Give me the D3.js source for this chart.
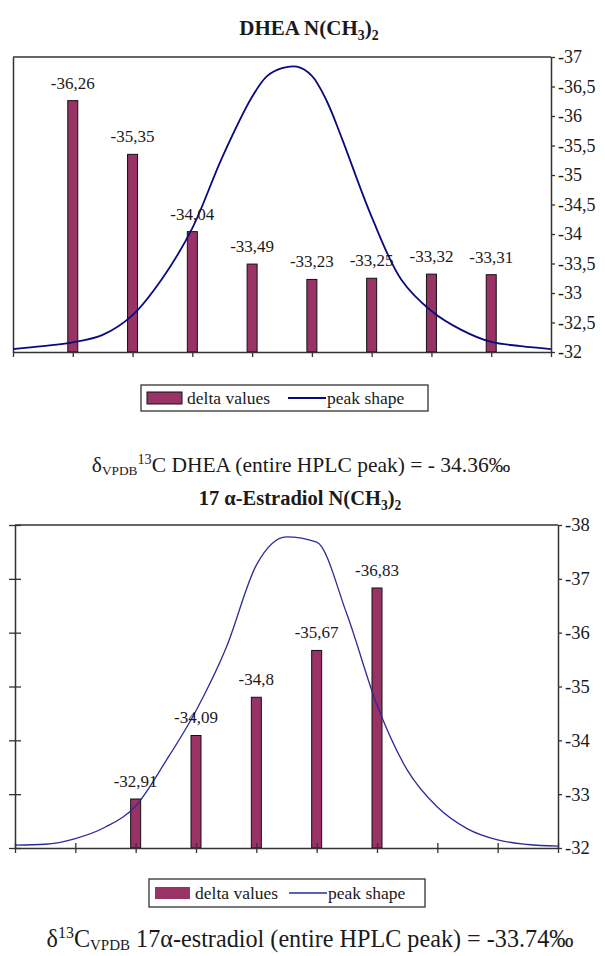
<!DOCTYPE html>
<html>
<head>
<meta charset="utf-8">
<script src="https://cdn.jsdelivr.net/npm/d3@7"></script>
<style>
  html, body { margin: 0; padding: 0; background: #fff; }
  svg { display: block; }
  text { font-family: "Liberation Serif", "Times New Roman", serif; fill: #1a1a1a; }
</style>
</head>
<body>
<svg id="fig" width="605" height="956"></svg>
<script>
// ---- DHEA N(CH3)2 ----
const dheaBarSlots = [1, 2, 3, 4, 5, 6, 7, 8];
const dheaDelta = [-36.26, -35.35, -34.04, -33.49, -33.23, -33.25, -33.32, -33.31];
const dheaPeakPos = [0, 0.5, 1, 1.5, 2, 2.5, 3, 3.5, 4, 4.25, 4.5, 4.75, 5, 5.25, 5.5, 6, 6.5, 7, 7.5, 8, 8.5, 9];
const dheaPeak = [1.0, 2.0, 3.3, 5.8, 12.5, 25.0, 42.0, 66.0, 86.5, 93.5, 96.2, 96.7, 93.6, 85.0, 72.5, 45.8, 24.4, 13.9, 7.5, 3.4, 2.0, 1.0];
const dheaTicks = [-37, -36.5, -36, -35.5, -35, -34.5, -34, -33.5, -33, -32.5, -32];

// ---- 17α-Estradiol N(CH3)2 ----
const estBarSlots = [2, 3, 4, 5, 6];
const estDelta = [-32.91, -34.09, -34.8, -35.67, -36.83];
const estPeakPos = [0, 0.5, 1, 1.5, 2, 2.5, 3, 3.5, 4, 4.5, 5, 5.5, 6, 6.5, 7, 7.5, 8, 8.5, 9];
const estPeak = [1.1, 1.4, 3.5, 7.8, 15.6, 32.3, 51.0, 74.4, 105.1, 115.6, 113.6, 86.9, 53.1, 29.0, 15.2, 7.1, 3.0, 1.3, 0.7];
const estTicks = [-38, -37, -36, -35, -34, -33, -32];
const estLeftTicks = [0, 20, 40, 60, 80, 100, 120];

const slotTicks = d3.range(0, 10);

const legendLabels = ["delta values", "peak shape"];

// decimal comma, plain hyphen minus
const locale = d3.formatLocale({ decimal: ",", thousands: ".", grouping: [3], currency: ["", ""], minus: "-" });
const fmt = locale.format("");

const BAR = "#993366";
const svg = d3.select("#fig");

// text made of normal / subscript / superscript runs
function richText(g, x, y, parts, size, weight) {
  const t = g.append("text")
    .attr("x", x).attr("y", y)
    .attr("text-anchor", "middle")
    .style("font-size", size + "px")
    .style("font-weight", weight || "normal");
  let cur = 0;
  parts.forEach(p => {
    const off = p.sub ? size * (p.subDrop || 0.22) : p.sup ? -size * 0.38 : 0;
    t.append("tspan")
      .attr("dy", off - cur)
      .style("font-size", (p.sub || p.sup ? size * (p.scale || 0.66) : size) + "px")
      .text(p.t);
    cur = off;
  });
  return t;
}

function drawChart(opt) {
  const g = svg.append("g");
  const x = d3.scaleLinear().domain([0, 9]).range([opt.left, opt.right]);
  const y = d3.scaleLinear().domain([-32, opt.yTop]).range([opt.bottom, opt.top]);
  const yL = d3.scaleLinear().domain([0, opt.leftMax]).range([opt.bottom, opt.top]);

  // top border
  g.append("line")
    .attr("x1", opt.left).attr("x2", opt.right)
    .attr("y1", opt.top).attr("y2", opt.top)
    .attr("stroke", "#333").attr("stroke-width", 1.5);

  // left axis (primary, unlabelled)
  const la = g.append("g").attr("transform", `translate(${opt.left},0)`)
    .call(d3.axisLeft(yL).tickValues(opt.leftTicks || []).tickSize(opt.leftTicks ? 6 : 0).tickSizeOuter(0).tickFormat(""));
  la.select(".domain").attr("stroke", "#333").attr("stroke-width", 1.5);
  la.selectAll(".tick line").attr("x1", -6).attr("x2", 6).attr("stroke", "#333").attr("stroke-width", 1.3);

  // bars
  g.selectAll("rect.bar").data(opt.delta).join("rect")
    .attr("class", "bar")
    .attr("x", (d, i) => x(opt.slots[i]) - 5)
    .attr("width", 10)
    .attr("y", d => y(d))
    .attr("height", d => y(-32) - y(d))
    .attr("fill", BAR)
    .attr("stroke", "#111")
    .attr("stroke-width", 1);

  // peak shape
  const line = d3.line()
    .x(d => x(d[0]))
    .y(d => yL(d[1]))
    .curve(opt.curve);
  g.append("path")
    .datum(opt.peakPos.map((p, i) => [p, opt.peak[i]]))
    .attr("d", line)
    .attr("fill", "none")
    .attr("stroke", opt.lineColor)
    .attr("stroke-width", opt.lineWidth)
    .attr("stroke-linejoin", "round");

  // bottom axis
  const xa = g.append("g").attr("transform", `translate(0,${opt.bottom})`)
    .call(d3.axisBottom(x).tickValues(slotTicks).tickSize(5).tickSizeOuter(0).tickFormat(""));
  xa.select(".domain").attr("stroke", "#333").attr("stroke-width", 1.5);
  xa.selectAll(".tick line").attr("stroke", "#333").attr("stroke-width", 1.3)
    .attr("y1", opt.crossTicks ? -5 : 0).attr("y2", 5);

  // right axis (secondary, delta values)
  const ra = g.append("g").attr("transform", `translate(${opt.right},0)`)
    .call(d3.axisRight(y).tickValues(opt.ticks).tickSize(4).tickSizeOuter(0).tickFormat(fmt).tickPadding(3));
  ra.select(".domain").attr("stroke", "#333").attr("stroke-width", 1.5);
  ra.selectAll(".tick line").attr("stroke", "#333").attr("stroke-width", 1.3);
  ra.selectAll(".tick text")
    .attr("fill", "#1a1a1a")
    .style("font-family", '"Liberation Serif", "Times New Roman", serif')
    .style("font-size", opt.tickSize + "px");

  // value labels
  g.selectAll("text.val").data(opt.delta).join("text")
    .attr("class", "val")
    .attr("x", (d, i) => x(opt.slots[i]))
    .attr("y", d => y(d) - 12)
    .attr("text-anchor", "middle")
    .style("font-size", "17px")
    .text(d => fmt(d));

  // title
  richText(g, opt.titleX, opt.titleY, opt.title, opt.titleSize, "bold");

  // legend
  const L = opt.legend;
  const lg = g.append("g");
  lg.append("rect").attr("x", L.x).attr("y", L.y).attr("width", L.w).attr("height", L.h)
    .attr("fill", "#fff").attr("stroke", "#333").attr("stroke-width", 1.3);
  const cy = L.y + L.h / 2;
  lg.append("rect").attr("x", L.x + 6).attr("y", cy - 6).attr("width", 35).attr("height", 12)
    .attr("fill", BAR).attr("stroke", L.swatchStroke ? "#111" : "none").attr("stroke-width", 1);
  lg.append("text").attr("x", L.x + 46).attr("y", cy + 6).style("font-size", "17.5px").text(legendLabels[0]);
  lg.append("line").attr("x1", L.lineX).attr("x2", L.lineX + 38).attr("y1", cy).attr("y2", cy)
    .attr("stroke", opt.lineColor).attr("stroke-width", opt.lineWidth);
  lg.append("text").attr("x", L.lineX + 39).attr("y", cy + 6).style("font-size", "17.5px").text(legendLabels[1]);

  // bulk value line
  richText(g, opt.noteX, opt.noteY, opt.note, opt.noteSize);
}

drawChart({
  left: 13, right: 551, top: 57, bottom: 352, yTop: -37, leftMax: 100,
  slots: dheaBarSlots, delta: dheaDelta, peakPos: dheaPeakPos, peak: dheaPeak,
  ticks: dheaTicks, tickSize: 18, curve: d3.curveCatmullRom.alpha(0.5), lineColor: "#0a0a80", lineWidth: 1.8, crossTicks: false,
  title: [{ t: "DHEA N(CH" }, { t: "3", sub: true }, { t: ")" }, { t: "2", sub: true }],
  titleX: 309, titleY: 35, titleSize: 21,
  legend: { x: 141, y: 385, w: 287, h: 26, lineX: 288, swatchStroke: true },
  note: [{ t: "δ" }, { t: "VPDB", sub: true, scale: 0.62, subDrop: 0.12 }, { t: "13", sup: true }, { t: "C DHEA (entire HPLC peak) = - 34.36‰" }],
  noteX: 301, noteY: 472, noteSize: 21.5
});

drawChart({
  left: 15, right: 558, top: 525, bottom: 848, yTop: -38, leftMax: 120, leftTicks: estLeftTicks,
  slots: estBarSlots, delta: estDelta, peakPos: estPeakPos, peak: estPeak,
  ticks: estTicks, tickSize: 18.5, curve: d3.curveMonotoneX, lineColor: "#2b2b99", lineWidth: 1.3, crossTicks: true,
  title: [{ t: "17 α-Estradiol N(CH" }, { t: "3", sub: true }, { t: ")" }, { t: "2", sub: true }],
  titleX: 300, titleY: 505, titleSize: 20.5,
  legend: { x: 149, y: 879, w: 276, h: 28, lineX: 289, swatchStroke: false },
  note: [{ t: "δ" }, { t: "13", sup: true }, { t: "C" }, { t: "VPDB", sub: true, scale: 0.62, subDrop: 0.12 }, { t: " 17α-estradiol (entire HPLC peak) = -33.74‰" }],
  noteX: 310, noteY: 947, noteSize: 24.2
});
</script>
</body>
</html>
